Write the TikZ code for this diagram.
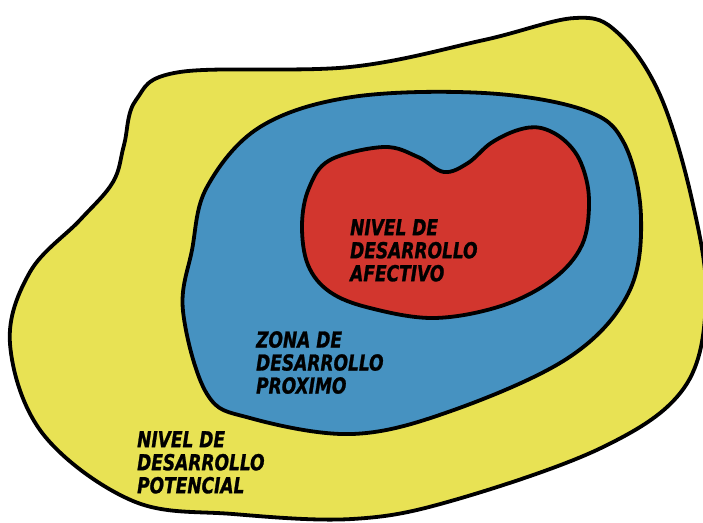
\documentclass[tikz,border=0pt]{standalone}
\usepackage{fontspec}
\newfontfamily\rotulofont{DejaVu Sans Condensed Bold Oblique}[FakeBold=1.2]
\usetikzlibrary{positioning}
\definecolor{amarillo}{RGB}{232,226,84}
\definecolor{azul}{RGB}{70,146,193}
\definecolor{rojo}{RGB}{210,54,46}
\tikzset{
	zona/.style={
		draw=black,
		line width=3.8pt,
		line join=round},
	rotulo/.style={
		font=\rotulofont\fontsize{22}{23}\selectfont,
		align=left,
		anchor=north west,
		inner sep=0pt,
		xscale=0.86,
		transform shape,
		text=black},
}

\begin{document}
\begin{tikzpicture}
[x=1pt, y=-1pt]
\useasboundingbox (0,0) rectangle (703,522);
% nivel potencial
\draw[zona, fill=amarillo] plot[smooth cycle, tension=0.6] coordinates {
	(180,72) (350,67) (484,40) (575,18) (618,33) (660,95) (692,200)
	(706,300) (684,388) (601,448) (451,501) (352,519) (233,514)
	(133,501) (43,434) (10,344) (30,272) (80,220) (113,182) (124,145)
	(136,100)};
% zona de desarrollo proximo
\draw[zona, fill=azul] plot[smooth cycle, tension=0.6] coordinates {
	(352,97) (484,93) (584,110) (624,143) (641,217) (628,294) (568,358)
	(451,411) (352,434) (250,418) (207,394) (183,311) (192,250) (207,187)
	(260,127)};
% nivel afectivo
\draw[zona, fill=rojo] plot[smooth cycle, tension=0.6] coordinates {
	(384,147) (418,157) (444,172) (468,163) (491,143) (518,130) (541,128)
	(564,140) (581,163) (589,200) (582,245) (552,280) (501,306) (434,318)
	(370,308) (330,292) (308,265) (302,225) (309,188) (330,160)};

\node[rotulo] (afectivo) at (350,219) {NIVEL DE\\DESARROLLO\\AFECTIVO};
\node[rotulo] (proximo) at (256,331) {ZONA DE\\DESARROLLO\\PROXIMO};
\node[rotulo] (potencial) at (137,431) {NIVEL DE\\DESARROLLO\\POTENCIAL};

\end{tikzpicture}
\end{document}
